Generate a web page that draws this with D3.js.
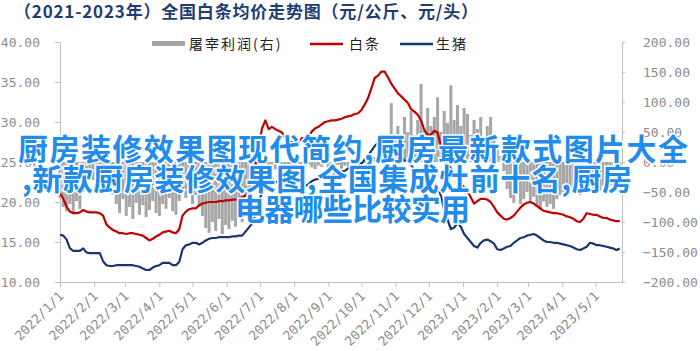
<!DOCTYPE html>
<html>
<head>
<meta charset="utf-8">
<script src="https://cdn.jsdelivr.net/npm/d3@7"></script>
<style>
    body { margin: 0; background: #fff; }
    svg { display: block; }
</style>
</head>
<body>
<div id="chart"></div>
<script>
// Dates: one point every 3 days from 2022/1/1
const startDate = Date.UTC(2022, 0, 1);
const stepDays = 3;

// 白条 (元/公斤, left axis)
const baitiao = [
    21.1, 20.4, 19.4, 18.8, 18.6, 18.6, 18.7, 19.0, 18.8, 18.7,
    18.7, 18.7, 18.6, 18.3, 17.2, 16.8, 16.5, 16.3, 16.1, 16.1,
    16.0, 16.1, 16.1, 16.0, 15.9, 15.8, 15.5, 15.2, 15.4, 15.7,
    15.9, 16.2, 16.3, 16.4, 16.2, 16.1, 16.6, 18.3, 18.8, 19.1,
    19.2, 19.2, 19.6, 19.8, 19.9, 20.0, 20.0, 20.0, 20.1, 20.1,
    20.2, 20.2, 20.3, 20.3, 20.4, 20.6, 20.8, 21.2, 22.4, 24.5,
    27.0, 29.2, 30.2, 29.1, 29.4, 29.1, 28.9, 28.7, 28.0, 27.5,
    27.5, 27.4, 27.4, 28.0, 28.0, 28.1, 28.8, 29.2, 29.4, 29.7,
    30.0, 30.1, 30.2, 30.2, 30.3, 30.4, 30.6, 30.7, 30.8, 31.0,
    31.1, 31.5, 32.2, 33.0, 34.2, 35.5, 35.8, 36.3, 36.3, 35.6,
    34.8, 34.2, 33.6, 33.2, 32.8, 32.4, 31.6, 31.3, 30.9, 30.2,
    29.0, 28.4, 28.4, 28.9, 28.7, 27.0, 25.8, 24.8, 24.2, 23.4,
    23.0, 22.4, 21.8, 21.3, 20.6, 19.8, 20.1, 20.4, 20.4, 20.3,
    20.0, 19.4, 18.7, 18.3, 17.9, 17.8, 18.0, 18.3, 18.8, 19.3,
    19.7, 19.9, 20.0, 19.8, 19.5, 19.2, 18.9, 18.8, 18.7, 18.6,
    18.6, 18.5, 18.4, 18.2, 18.1, 17.9, 17.6, 17.5, 17.9, 18.6,
    18.5, 18.4, 18.4, 18.2, 18.0, 18.0, 17.8, 17.7, 17.6, 17.6
];

// 生猪 (元/公斤, left axis)
const shengzhu = [
    15.9, 15.8, 15.3, 14.2, 13.9, 13.9, 13.9, 14.2, 13.7, 13.6,
    13.6, 13.6, 13.6, 12.6, 12.1, 12.0, 12.0, 12.1, 12.1, 12.1,
    12.1, 12.1, 12.1, 12.0, 11.9, 11.7, 11.5, 11.5, 11.8, 12.0,
    12.1, 12.4, 12.4, 12.4, 12.1, 12.1, 12.5, 14.1, 14.6, 14.7,
    14.9, 14.9, 14.7, 14.9, 15.2, 15.4, 15.5, 15.5, 15.6, 15.6,
    15.6, 15.6, 15.7, 15.7, 15.8, 15.8, 16.3, 16.8, 17.3, 18.5,
    20.0, 21.2, 21.9, 22.5, 22.9, 22.6, 22.4, 22.0, 21.8, 21.5,
    21.4, 21.4, 21.6, 21.8, 22.0, 22.2, 22.6, 22.8, 22.9, 22.9,
    23.0, 23.2, 23.3, 23.5, 23.6, 23.8, 23.9, 24.2, 24.4, 24.5,
    24.5, 24.8, 25.3, 25.8, 26.4, 27.0, 27.4, 27.8, 27.6, 27.2,
    26.7, 26.3, 26.0, 25.6, 25.2, 25.0, 24.6, 24.0, 23.3, 23.0,
    22.4, 22.2, 22.3, 22.4, 21.9, 20.8, 19.0, 17.8, 16.6, 16.8,
    17.4, 16.9, 16.0, 15.5, 15.0, 14.5, 14.3, 14.9, 15.2, 15.3,
    15.1, 14.8, 14.1, 14.0, 14.2, 14.4, 14.5, 14.9, 15.2, 15.5,
    15.6, 15.8, 15.9, 16.0, 15.8, 15.5, 15.2, 15.0, 15.0, 14.9,
    14.9, 14.8, 14.7, 14.6, 14.5, 14.3, 14.1, 14.0, 14.2, 14.4,
    14.9, 14.8, 14.6, 14.6, 14.5, 14.4, 14.3, 14.2, 14.0, 14.2
];

// 屠宰利润 (元/头, right axis)
const profit = [
    -60, -75, -82, -70, -85, -65, -78, -50, -30, -25,
    -30, -20, -35, -28, -40, -45, -55, -70, -85, -62,
    -90, -75, -95, -68, -88, -72, -92, -80, -65, -85,
    -90, -70, -78, -60, -82, -88, -65, -50, -60, -45,
    -70, -55, -75, -90, -110, -118, -100, -115, -95, -120,
    -105, -112, -98, -108, -90, -100, -80, -60, -40, -20,
    -10, -8, -5, -10, -6, -12, -7, -4, -9, -11,
    -6, -8, -3, -10, -7, -5, -9, -12, -6, -8,
    -4, -10, -7, -9, -5, -11, -6, -8, -3, -7,
    -10, -5, -2, 5, -3, 8, 15, 10, 30, 45,
    98, 40, 60, 35, 75, 50, 85, 45, 70, 130,
    55, 90, 60, 75, 108, 50, 85, 65, 128, 70,
    95, 60, 90, 80, 45, 70, 55, 75, 40, 60,
    75, 45, 30, 10, -15, -45, -60, -68, -55, -70,
    -62, -50, -65, -58, -72, -80, -66, -75, -70, -78,
    -62, -55, -50, -58, -45, -52, -48, -55, -40, -50,
    -45, -52, -42, -48, -40, -46, -38, -44, -40, -45
];

const leftTicks = [10, 15, 20, 25, 30, 35, 40];
const rightTicks = [-200, -150, -100, -50, 0, 50, 100, 150, 200];

const titleText = "（2021-2023年）全国白条均价走势图（元/公斤、元/头）";
const legendLabels = ["屠宰利润(右)", "白条", "生猪"];
const overlayLines = [
    "厨房装修效果图现代简约,厨房最新款式图片大全",
    ",新款厨房装修效果图,全国集成灶前十名,厨房",
    "电器哪些比较实用"
];

const width = 700, height = 351;
const plot = { left: 60, right: 622, top: 42, bottom: 282 };
const axisFont = "'DejaVu Sans Mono', monospace";
const cjkFont = "'Noto Sans CJK SC', 'Noto Sans', sans-serif";

const dates = profit.map((_, i) => new Date(startDate + i * stepDays * 864e5));

const x = d3.scaleUtc()
    .domain([new Date(Date.UTC(2022, 0, 1)), new Date(Date.UTC(2023, 4, 25))])
    .range([plot.left, plot.right]);
const yL = d3.scaleLinear().domain([10, 40]).range([plot.bottom, plot.top]);
const yR = d3.scaleLinear().domain([-200, 200]).range([plot.bottom, plot.top]);

const svg = d3.select("#chart").append("svg")
    .attr("width", width)
    .attr("height", height);

// Title
svg.append("text")
    .attr("x", 14)
    .attr("y", 18)
    .attr("textLength", 464)
    .attr("lengthAdjust", "spacing")
    .style("font-family", cjkFont)
    .style("font-size", "17px")
    .style("font-weight", 700)
    .style("fill", "#1f3d73")
    .text(titleText);

// Legend
const legend = svg.append("g").style("font-family", cjkFont).style("font-size", "14px").style("fill", "#222");
legend.append("rect").attr("x", 152).attr("y", 41).attr("width", 33).attr("height", 5).attr("fill", "#a6a6a6");
legend.append("text").attr("x", 189).attr("y", 49).style("letter-spacing", "2px").text(legendLabels[0]);
legend.append("line").attr("x1", 310).attr("x2", 343).attr("y1", 44).attr("y2", 44)
    .attr("stroke", "#c00000").attr("stroke-width", 2.5);
legend.append("text").attr("x", 349).attr("y", 49).style("letter-spacing", "2px").text(legendLabels[1]);
legend.append("line").attr("x1", 400).attr("x2", 433).attr("y1", 44).attr("y2", 44)
    .attr("stroke", "#17376e").attr("stroke-width", 2.5);
legend.append("text").attr("x", 436).attr("y", 49).style("letter-spacing", "2px").text(legendLabels[2]);

// Profit bars (right axis)
svg.append("g")
    .selectAll("rect")
    .data(profit)
    .join("rect")
    .attr("x", (d, i) => x(dates[i]) - 1.5)
    .attr("width", 3)
    .attr("y", d => Math.min(yR(d), yR(0)))
    .attr("height", d => Math.abs(yR(d) - yR(0)))
    .attr("fill", "#a6a6a6");

// Axes
function styleAxis(g) {
    g.selectAll(".domain").attr("stroke", "#bfbfbf");
    g.selectAll(".tick line").attr("stroke", "#bfbfbf");
    g.selectAll(".tick text")
        .style("font-family", axisFont)
        .style("font-size", "13px")
        .attr("fill", "#8c8c8c");
}

svg.append("g")
    .attr("transform", `translate(${plot.left},0)`)
    .call(d3.axisLeft(yL).tickValues(leftTicks).tickSize(5).tickSizeOuter(0)
        .tickPadding(15).tickFormat(d3.format(".2f")))
    .call(styleAxis);

svg.append("g")
    .attr("transform", `translate(${plot.right},0)`)
    .call(d3.axisRight(yR).tickValues(rightTicks).tickSize(3).tickSizeOuter(0)
        .tickPadding(18).tickFormat(d3.format(".2f")))
    .call(styleAxis);

const monthTicks = d3.utcMonth.range(new Date(Date.UTC(2022, 0, 1)), new Date(Date.UTC(2023, 4, 2)));
const xAxis = svg.append("g")
    .attr("transform", `translate(0,${plot.bottom})`)
    .call(d3.axisBottom(x).tickValues(monthTicks).tickSize(5).tickSizeOuter(0)
        .tickFormat(d3.utcFormat("%Y/%-m/%-d")))
    .call(styleAxis);
xAxis.selectAll(".tick text")
    .attr("text-anchor", "end")
    .attr("x", 0).attr("y", 0).attr("dy", 0)
    .attr("transform", "translate(4,15) rotate(-45)");

// Lines (left axis)
const line = d3.line().x((d, i) => x(dates[i])).y(d => yL(d));
svg.append("path")
    .datum(baitiao)
    .attr("d", line)
    .attr("fill", "none")
    .attr("stroke", "#c00000")
    .attr("stroke-width", 2.2)
    .attr("stroke-linejoin", "round");
svg.append("path")
    .datum(shengzhu)
    .attr("d", line)
    .attr("fill", "none")
    .attr("stroke", "#17376e")
    .attr("stroke-width", 2.2)
    .attr("stroke-linejoin", "round");

// Overlay caption text on top of the chart
const overlayPos = [[18, 160, 670], [22, 190, 610], [235, 220, 235]];
svg.append("g")
    .selectAll("text")
    .data(overlayLines)
    .join("text")
    .attr("x", (d, i) => overlayPos[i][0])
    .attr("y", (d, i) => overlayPos[i][1])
    .attr("textLength", (d, i) => overlayPos[i][2])
    .attr("lengthAdjust", "spacing")
    .style("font-family", cjkFont)
    .style("font-size", "30px")
    .style("font-weight", 700)
    .style("fill", "#218ceb")
    .style("stroke", "#fff")
    .style("stroke-width", 3)
    .style("paint-order", "stroke")
    .text(d => d);
</script>
</body>
</html>
